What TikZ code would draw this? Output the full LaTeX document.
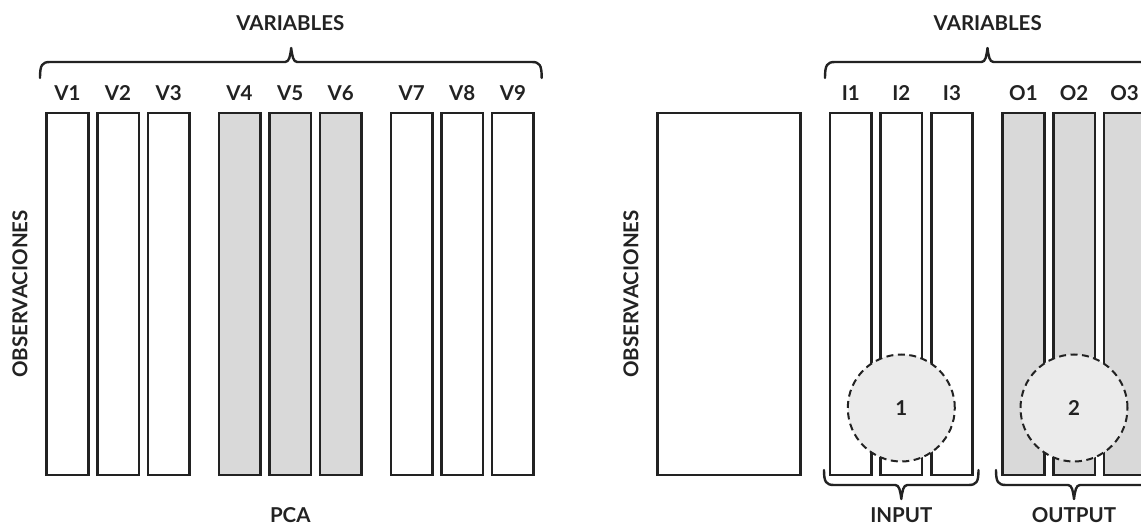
\documentclass[tikz,border=0pt]{standalone}
\usepackage{fontspec}
\setmainfont{Lato}
\definecolor{ink}{HTML}{222222}
\definecolor{barfill}{HTML}{D9D9D9}
\definecolor{zonefill}{HTML}{EBEBEB}
% curly brace opening downwards: #1 left x, #2 right x, #3 tip x, #4 line y
\newcommand{\bracetop}[4]{%
  \draw[brace] (#1,#4+16) .. controls (#1,#4+3) and (#1+2,#4) .. (#1+10,#4)
    -- (#3-6,#4) .. controls (#3-2,#4) and (#3-1,#4-6) .. (#3,#4-14)
    .. controls (#3+1,#4-6) and (#3+2,#4) .. (#3+6,#4)
    -- (#2-10,#4) .. controls (#2-2,#4) and (#2,#4+3) .. (#2,#4+16);}
% curly brace opening upwards
\newcommand{\bracebottom}[4]{%
  \draw[brace] (#1,#4-15) .. controls (#1,#4-3) and (#1+2,#4) .. (#1+10,#4)
    -- (#3-6,#4) .. controls (#3-2,#4) and (#3-1,#4+6) .. (#3,#4+14)
    .. controls (#3+1,#4+6) and (#3+2,#4) .. (#3+6,#4)
    -- (#2-10,#4) .. controls (#2-2,#4) and (#2,#4-3) .. (#2,#4-15);}
\begin{document}
\begin{tikzpicture}[x=1pt,y=-1pt,
  bar/.style={draw=ink, fill=white, line width=2.6pt, minimum width=41.5pt,
    minimum height=362pt, inner sep=0pt, outer sep=0pt, anchor=north west},
  shaded/.style={bar, fill=barfill},
  lbl/.style={font=\bfseries\fontsize{20.5}{22}\selectfont, text=ink, inner sep=0pt},
  brace/.style={draw=ink, line width=2.4pt, line cap=round, line join=round},
  zone/.style={circle, draw=ink, fill=zonefill, line width=2pt,
    dash pattern=on 7pt off 4.5pt, minimum size=107pt, inner sep=0pt,
    font=\bfseries\fontsize{20.5}{22}\selectfont, text=ink}]
\useasboundingbox (0,0) rectangle (1141,526);
\clip (0,0) rectangle (1141,526);

% ---------- PCA ----------
\foreach \n/\x/\s in {V1/46.7/bar, V2/97.3/bar, V3/147.9/bar,
                      V4/218.8/shaded, V5/269.4/shaded, V6/320.0/shaded,
                      V7/390.9/bar, V8/441.5/bar, V9/492.1/bar}{
  \node[\s] (b\n) at (\x,113) {};
  \node[lbl] (t\n) at (\x+20.75,93) {\n};
}
\bracetop{40}{541.7}{291.2}{62}
\node[lbl] (varL) at (290.3,23) {VARIABLES};
\node[lbl, rotate=90] (obsL) at (20,294) {OBSERVACIONES};
\node[lbl] (pca) at (290.3,515) {PCA};

% ---------- input / output ----------
\node[bar, minimum width=143pt] (block) at (657.3,113) {};
\node[lbl, rotate=90] (obsR) at (631,294) {OBSERVACIONES};
\foreach \n/\x/\s in {I1/830.0/bar, I2/880.6/bar, I3/931.2/bar,
                      O1/1002.7/shaded, O2/1053.3/shaded, O3/1103.9/shaded}{
  \node[\s] (b\n) at (\x,113) {};
  \node[lbl] (t\n) at (\x+20.75,93) {\n};
}
\bracetop{825}{1150}{987.5}{62}
\node[lbl] (varR) at (987.7,23) {VARIABLES};

\node[zone] (z1) at (901.3,408) {1};
\node[zone] (z2) at (1074,408) {2};

\bracebottom{824}{978.5}{901.3}{485}
\bracebottom{996}{1152}{1074}{485}
\node[lbl] (inp) at (901.3,515) {INPUT};
\node[lbl] (outp) at (1074,515) {OUTPUT};
\end{tikzpicture}
\end{document}
